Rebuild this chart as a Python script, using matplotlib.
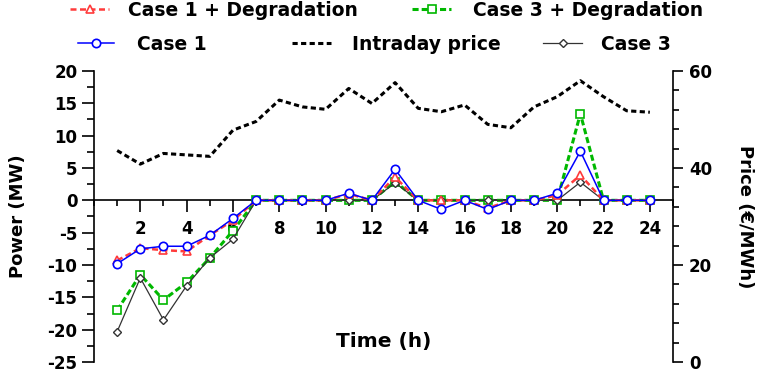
import matplotlib
matplotlib.use("Agg")
import matplotlib.pyplot as plt
from matplotlib.ticker import MultipleLocator

plt.rcParams['font.family'] = ['DejaVu Sans']
plt.rcParams['font.weight'] = 'bold'
plt.rcParams['axes.unicode_minus'] = False

hours = list(range(1, 25))
price = [43.6, 40.8, 43.0, 42.7, 42.4, 47.8, 49.6, 54.0, 52.6, 52.1, 56.4, 53.3,
         57.6, 52.3, 51.6, 53.0, 49.0, 48.3, 52.6, 54.7, 58.0, 54.7, 51.8, 51.5]
case1 = [-9.8, -7.5, -7.1, -7.1, -5.4, -2.8, 0, 0, 0, 0, 1.1, 0,
         4.8, 0, -1.4, 0, -1.4, 0, 0, 1.1, 7.6, 0, 0, 0]
case1_deg = [-9.3, -7.4, -7.7, -7.9, -5.4, -3.1, 0, 0, 0, 0, 1.0, 0,
             3.6, 0, 0, 0, -1.2, 0, 0, 0.8, 3.9, 0, 0, 0]
case3_deg = [-17.0, -11.5, -15.4, -12.7, -8.9, -4.7, 0, 0, 0, 0, 0, 0,
             2.9, 0, 0, 0, 0, 0, 0, 0, 13.4, 0, 0, 0]
case3 = [-20.3, -12.0, -18.5, -13.2, -8.9, -6.0, 0, 0, 0, 0, 0, 0,
         2.7, 0, 0, 0, 0, 0, 0, 0, 2.8, 0, 0, 0]

W, H = 757, 378
fig = plt.figure(figsize=(W / 100, H / 100), dpi=100)
L, R, T, B = 94, 673, 71, 362
ax = fig.add_axes([L / W, 1 - B / H, (R - L) / W, (B - T) / H])
ax2 = ax.twinx()

RED = '#ff3b3b'
GREEN = '#00b800'
BLUE = '#0000ff'

l_g, = ax.plot(hours, case3_deg, color=GREEN, lw=2.2, dashes=(2.0, 1.0),
               marker='s', ms=5.2, mfc='white', mec=GREEN, mew=1.2, zorder=3)
l_k, = ax.plot(hours, case3, color='#333333', lw=0.9,
               marker='D', ms=3.6, mfc='white', mec='#333333', mew=1.0, zorder=4)
l_r, = ax.plot(hours, case1_deg, color=RED, lw=1.8, dashes=(2.4, 1.4),
               marker='^', ms=5.8, mfc='white', mec=RED, mew=1.2, zorder=5)
l_b, = ax.plot(hours, case1, color=BLUE, lw=1.1,
               marker='o', ms=6, mfc='white', mec=BLUE, mew=1.2, zorder=6)
l_p, = ax2.plot(hours, price, color='black', lw=2.2, dashes=(1.7, 1.1), zorder=3)

ax.set_xlim(0, 25)
ax.set_ylim(-25, 20)
ax2.set_ylim(0, 60)

ax.spines['top'].set_visible(False)
ax.spines['right'].set_visible(False)
ax.spines['bottom'].set_position(('data', 0))
for s in ['top', 'bottom', 'left']:
    ax2.spines[s].set_visible(False)
for a in (ax, ax2):
    for s in a.spines.values():
        s.set_linewidth(1.2)

ax.set_xticks(list(range(2, 25, 2)))
ax.xaxis.set_minor_locator(MultipleLocator(1))
ax.yaxis.set_major_locator(MultipleLocator(5))
ax.yaxis.set_minor_locator(MultipleLocator(2.5))
ax2.yaxis.set_major_locator(MultipleLocator(20))
ax2.yaxis.set_minor_locator(MultipleLocator(4))

ax.tick_params(axis='x', which='major', direction='out', length=8.5, width=1.2,
               pad=6, labelsize=12)
ax.tick_params(axis='x', which='minor', direction='out', length=4.5, width=1.2)
ax.tick_params(axis='y', which='major', direction='out', length=9, width=1.2,
               pad=3, labelsize=12)
ax.tick_params(axis='y', which='minor', direction='out', length=5, width=1.2)
ax2.tick_params(axis='y', which='major', direction='out', length=7.5, width=1.2,
                pad=4, labelsize=12)
ax2.tick_params(axis='y', which='minor', direction='out', length=4, width=1.2)
for lab in ax.get_xticklabels() + ax.get_yticklabels() + ax2.get_yticklabels():
    lab.set_fontweight('bold')

ax.set_zorder(ax2.get_zorder() + 1)
ax.patch.set_visible(False)

fig.text(18 / W, 1 - 216.5 / H, 'Power (MW)', rotation=90, ha='center', va='center',
         fontsize=13, fontweight='bold')
fig.text(745 / W, 1 - 216.5 / H, 'Price (€/MWh)', rotation=-90, ha='center', va='center',
         fontsize=13, fontweight='bold')
fig.text(383.5 / W, 1 - 342 / H, 'Time (h)', ha='center', va='center',
         fontsize=14.5, fontweight='bold')

fs = 13.5
fpx = fs * 100 / 72
entries = [
    (l_r, 'Case 1 + Degradation', 70, 109, 128, 10.5),
    (l_g, 'Case 3 + Degradation', 412, 451, 473, 10.5),
    (l_b, 'Case 1', 78, 114, 137, 44),
    (l_p, 'Intraday price', 292, 331, 352, 44),
    (l_k, 'Case 3', 543, 582, 601, 44),
]
for h, lab, x0, x1, xt, yc in entries:
    fig.legend(handles=[h], labels=[lab], loc='center left',
               bbox_to_anchor=(x0 / W, 1 - yc / H), frameon=False,
               borderpad=0, borderaxespad=0,
               handlelength=(x1 - x0) / fpx, handletextpad=(xt - x1) / fpx,
               prop={'size': fs, 'weight': 'bold'})

fig.savefig('out.png', dpi=100)
